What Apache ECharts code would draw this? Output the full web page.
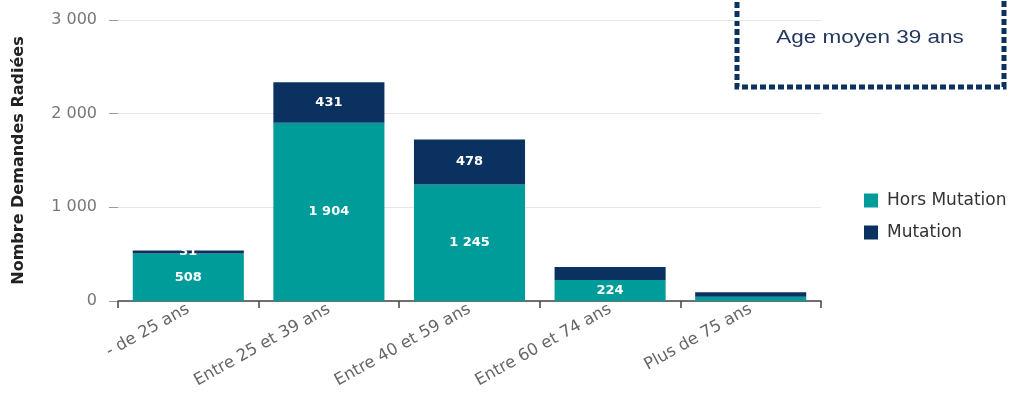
<!DOCTYPE html>
<html><head><meta charset="utf-8">
<script src="https://cdn.jsdelivr.net/npm/echarts@6/dist/echarts.min.js"></script>
<style>html,body{margin:0;padding:0;background:#fff}#c{width:1017px;height:403px}</style>
</head><body><div id="c"></div>
<script>
const categories = ['- de 25 ans','Entre 25 et 39 ans','Entre 40 et 59 ans','Entre 60 et 74 ans','Plus de 75 ans'];
const horsMutation = [508, 1904, 1245, 224, 46];
const mutation = [31, 431, 478, 140, 47];
const showHors = [true, true, true, true, false];
const showMut = [true, true, true, false, false];
const yTicks = [0, 1000, 2000, 3000];
const annotationText = 'Age moyen 39 ans';

const fmt = v => String(v).replace(/\B(?=(\d{3})+(?!\d))/g, ' ');
const FONT = '"DejaVu Sans", "Open Sans", sans-serif';
const chart = echarts.init(document.getElementById('c'), null, {renderer:'canvas'});
const lbl = { color:'#fff', fontSize:13, fontWeight:'bold', fontFamily:FONT, formatter: p => fmt(p.value) };
chart.setOption({
  animation:false,
  grid:{left:118, right:196, top:20, bottom:102, containLabel:false},
  legend:{orient:'vertical', left:859, top:187, itemWidth:14, itemHeight:14, itemGap:15,
    icon:'rect', textStyle:{color:'#333', fontSize:17, fontFamily:FONT, padding:[0,0,0,4]},
    data:['Hors Mutation','Mutation']},
  xAxis:{type:'category', data:categories,
    axisLine:{lineStyle:{color:'#444', width:1.5}},
    axisTick:{show:true, length:7, lineStyle:{color:'#444', width:1.5}},
    axisLabel:{rotate:29, color:'#666', fontSize:16.5, fontFamily:FONT, margin:7}},
  yAxis:{type:'value', min:yTicks[0], max:yTicks[yTicks.length-1], interval:1000,
    name:'Nombre Demandes Radiées', nameLocation:'middle', nameGap:91,
    nameTextStyle:{fontWeight:'bold', fontSize:16, color:'#222', fontFamily:FONT},
    axisLine:{show:false},
    axisTick:{show:true, length:9, lineStyle:{color:'#999'}},
    splitLine:{lineStyle:{color:'#e6e6e6'}},
    axisLabel:{color:'#777', fontSize:16, fontFamily:FONT, margin:21, formatter: v => fmt(v)}},
  series:[
    {name:'Hors Mutation', type:'bar', stack:'t', barWidth:'79%', itemStyle:{color:'#009c9a'},
     data: horsMutation.map((v,i)=>({value:v, label:{show:showHors[i]}})),
     label:Object.assign({position:'inside'}, lbl)},
    {name:'Mutation', type:'bar', stack:'t', barWidth:'79%', itemStyle:{color:'#0a3160'},
     data: mutation.map((v,i)=>({value:v, label:{show:showMut[i]}})),
     label:Object.assign({position:'inside'}, lbl)}
  ],
  graphic:[
    {type:'rect', shape:{x:737, y:-20, width:267, height:107},
     style:{fill:'#fff', stroke:'#0a3160', lineWidth:5, lineDash:[6,3]}},
    {type:'text', x:870, y:38, scaleX:1.25, style:{text:annotationText, fill:'#24395f', fontSize:18,
      fontFamily:'"Liberation Sans", Arial, sans-serif', align:'center', verticalAlign:'middle'}}
  ]
});
</script></body></html>
